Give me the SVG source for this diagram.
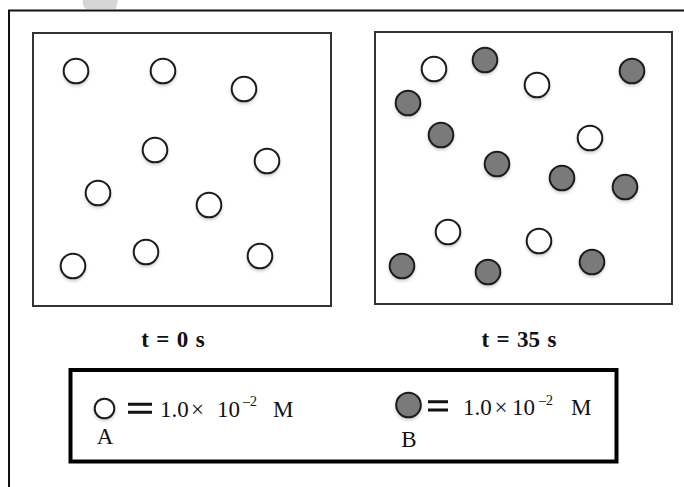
<svg xmlns="http://www.w3.org/2000/svg" width="684" height="487" viewBox="0 0 684 487">
<style>
.a{fill:#fff;stroke:#1e1e1e;stroke-width:2}
.b{fill:#7a7a7a;stroke:#1e1e1e;stroke-width:2}
.box{fill:#fff;stroke:#333;stroke-width:2}
.lbl{font-family:"Liberation Serif","Times New Roman",serif;font-weight:bold;font-size:23px;fill:#111;word-spacing:1.6px}
.leg{font-family:"Liberation Serif","Times New Roman",serif;font-size:23px;fill:#111}
.sup{font-size:14px}
.eq{stroke:#111;stroke-width:3;fill:none}
</style>
<defs>
<filter id="sh" x="-40%" y="-40%" width="180%" height="180%">
<feDropShadow dx="0" dy="2" stdDeviation="1.5" flood-color="#000" flood-opacity="0.18"/>
</filter>
</defs>
<rect width="684" height="487" fill="#fff"/>
<path d="M83,0 L118,0 L116,9 L87,9 Q83,8 83,4 Z" fill="#d6d6d6"/>
<path d="M9,487 V10.5 H684" fill="none" stroke="#111" stroke-width="2"/>

<g id="box-t0">
<rect class="box" x="33" y="33" width="298" height="273"/>
<g filter="url(#sh)">
<circle class="a" cx="76" cy="71" r="12.3"/>
<circle class="a" cx="163" cy="71" r="12.3"/>
<circle class="a" cx="244" cy="89" r="12.3"/>
<circle class="a" cx="155" cy="150" r="12.3"/>
<circle class="a" cx="267" cy="161" r="12.3"/>
<circle class="a" cx="98" cy="193" r="12.3"/>
<circle class="a" cx="209" cy="205" r="12.3"/>
<circle class="a" cx="73" cy="266" r="12.3"/>
<circle class="a" cx="146" cy="252" r="12.3"/>
<circle class="a" cx="260" cy="256" r="12.3"/>
</g>
</g>

<g id="box-t35">
<rect class="box" x="375" y="32" width="297" height="272"/>
<g filter="url(#sh)">
<circle class="a" cx="434" cy="69" r="12.3"/>
<circle class="a" cx="537" cy="85" r="12.3"/>
<circle class="a" cx="590" cy="138" r="12.3"/>
<circle class="a" cx="448" cy="232" r="12.3"/>
<circle class="a" cx="539" cy="241" r="12.3"/>
<circle class="b" cx="485" cy="60" r="12.3"/>
<circle class="b" cx="632" cy="71" r="12.3"/>
<circle class="b" cx="408" cy="103" r="12.3"/>
<circle class="b" cx="441" cy="135" r="12.3"/>
<circle class="b" cx="497" cy="164" r="12.3"/>
<circle class="b" cx="562" cy="178" r="12.3"/>
<circle class="b" cx="625" cy="187" r="12.3"/>
<circle class="b" cx="402" cy="266" r="12.3"/>
<circle class="b" cx="488" cy="272" r="12.3"/>
<circle class="b" cx="592" cy="262" r="12.3"/>
</g>
</g>

<g id="label-t0"><text class="lbl" x="173" y="347" text-anchor="middle">t = 0 s</text></g>
<g id="label-t35"><text class="lbl" x="519" y="347" text-anchor="middle">t = 35 s</text></g>

<g id="legend">
<rect x="70.5" y="370" width="546" height="91.5" fill="#fff" stroke="#000" stroke-width="4"/>
<g id="legend-A">
<circle class="a" cx="104.5" cy="408.5" r="9.8" stroke-width="1.8" filter="url(#sh)"/>
<path class="eq" d="M128,404.3 H152 M128,412.3 H152"/>
<text class="leg" y="416.5"><tspan x="160">1.0</tspan><tspan x="191">×</tspan><tspan x="217">10</tspan><tspan class="sup" x="243" y="406">–2</tspan><tspan x="273" y="416.5">M</tspan></text>
<text class="leg" x="105" y="444" text-anchor="middle">A</text>
</g>
<g id="legend-B">
<circle class="b" cx="408.5" cy="405" r="12.3" filter="url(#sh)"/>
<path class="eq" d="M428,401.7 H448 M428,410 H448"/>
<text class="leg" y="415"><tspan x="463">1.0</tspan><tspan x="494.5">×</tspan><tspan x="512">10</tspan><tspan class="sup" x="539" y="404.5">–2</tspan><tspan x="571" y="415">M</tspan></text>
<text class="leg" x="409" y="446.5" text-anchor="middle">B</text>
</g>
</g>
</svg>
